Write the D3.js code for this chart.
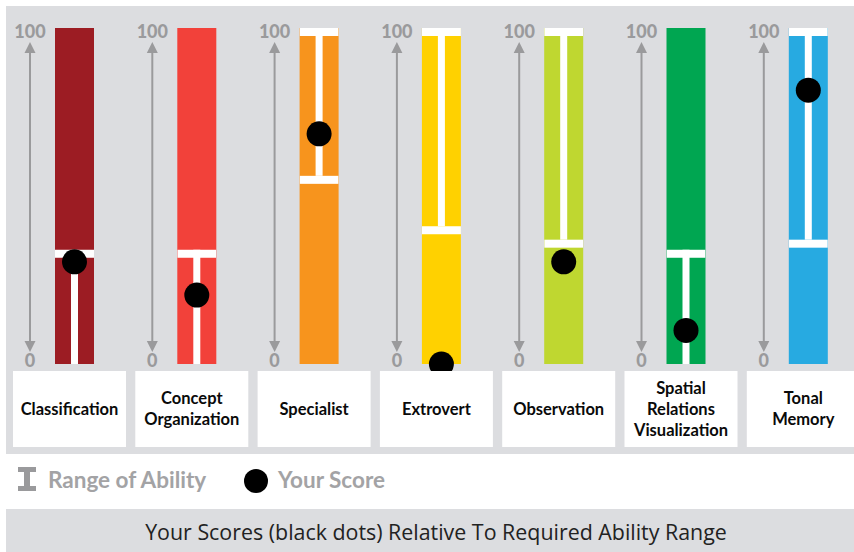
<!DOCTYPE html>
<html><head><meta charset="utf-8">
<script src="https://cdn.jsdelivr.net/npm/d3@7"></script>
<style>
html,body{margin:0;padding:0;background:#fff;}
svg{display:block;}
</style></head>
<body>
<script>
const categories = ["Classification", "Concept Organization", "Specialist", "Extrovert", "Observation", "Spatial Relations Visualization", "Tonal Memory"];
const labelLines = [["Classification"], ["Concept", "Organization"], ["Specialist"], ["Extrovert"], ["Observation"], ["Spatial", "Relations", "Visualization"], ["Tonal", "Memory"]];
const colors = ["#9c1c23", "#f2413a", "#f7941d", "#ffd100", "#bfd730", "#00a651", "#27aae1"];
const rangeLow = [0, 0, 56, 41, 37, 0, 37];
const rangeHigh = [34, 34, 100, 100, 100, 34, 100];
const scores = [30.4, 20.5, 68.5, 0, 30.4, 10, 81.5];
const axisTicks = [0, 100];

const W = 854, H = 552;
const svg = d3.select("body").append("svg").attr("width", W).attr("height", H);
const gray = "#dcdde0";

// background panels
svg.append("rect").attr("x", 6).attr("y", 6).attr("width", W - 6).attr("height", 448).attr("fill", gray);
svg.append("rect").attr("x", 6).attr("y", 509).attr("width", W - 6).attr("height", H - 509).attr("fill", gray);

const x = d3.scaleBand().domain(categories).range([13, 13 + 7 * 122.3]).paddingInner(0);
const y = d3.scaleLinear().domain([0, 100]).range([364, 28]);
const barW = 39, capH = 8, lineW = 7;

const cols = svg.selectAll("g.col").data(categories).join("g").attr("class", "col")
  .attr("transform", d => `translate(${x(d)},0)`);

// axis arrows
const ax = 17;
cols.append("line").attr("x1", ax).attr("x2", ax).attr("y1", 50).attr("y2", 344)
  .attr("stroke", "#9a9a9c").attr("stroke-width", 2);
cols.append("path").attr("d", `M${ax},42 L${ax - 5.5},53 L${ax + 5.5},53 Z`).attr("fill", "#9a9a9c");
cols.append("path").attr("d", `M${ax},352 L${ax - 5.5},341 L${ax + 5.5},341 Z`).attr("fill", "#9a9a9c");
cols.selectAll("text.tick").data(axisTicks).join("text").attr("class", "tick")
  .attr("x", ax).attr("y", t => t === 100 ? 37.5 : 366.5)
  .attr("text-anchor", "middle")
  .attr("font-family", "Lato, 'Open Sans', sans-serif").attr("font-weight", 900)
  .attr("font-size", 18).attr("fill", "#9a9a9c").text(t => t);

// bars
const bx = 42;
cols.append("rect").attr("x", bx).attr("width", barW).attr("y", y(100)).attr("height", y(0) - y(100))
  .attr("fill", (d, i) => colors[i]);

// clip per bar for range marks
const defs = svg.append("defs");
defs.append("clipPath").attr("id", "barclip").append("rect")
  .attr("x", bx).attr("width", barW).attr("y", y(100)).attr("height", y(0) - y(100));

const rg = cols.append("g").attr("clip-path", "url(#barclip)");
// vertical white line
rg.append("rect").attr("x", bx + barW / 2 - lineW / 2).attr("width", lineW)
  .attr("y", (d, i) => y(rangeHigh[i]))
  .attr("height", (d, i) => y(rangeLow[i]) - y(rangeHigh[i]))
  .attr("fill", "#fff");
// caps
rg.append("rect").attr("x", bx).attr("width", barW)
  .attr("y", (d, i) => y(rangeHigh[i])).attr("height", capH).attr("fill", "#fff");
rg.append("rect").attr("x", bx).attr("width", barW)
  .attr("y", (d, i) => y(rangeLow[i])).attr("height", capH).attr("fill", "#fff");

// score dots
cols.append("circle").attr("cx", bx + barW / 2).attr("cy", (d, i) => y(scores[i])).attr("r", 12.5).attr("fill", "#000");

// label boxes
cols.append("rect").attr("x", 0).attr("y", 371).attr("width", 113).attr("height", 76).attr("fill", "#fff");
cols.each(function (d, i) {
  const lines = labelLines[i];
  const lh = 21;
  const y0 = 409 - (lines.length - 1) * lh / 2;
  const t = d3.select(this).append("text").attr("text-anchor", "middle")
    .attr("font-family", "Lato, 'Open Sans', sans-serif").attr("font-weight", 700)
    .attr("font-size", 16.5).attr("fill", "#0a0a0a");
  lines.forEach((l, k) => {
    t.append("tspan").attr("x", 56.5).attr("y", y0 + k * lh).attr("dy", "0.35em").text(l);
  });
});

// legend
const lg = svg.append("g");
lg.append("rect").attr("x", 18).attr("y", 467).attr("width", 18).attr("height", 5).attr("fill", "#9a9a9c");
lg.append("rect").attr("x", 24).attr("y", 467).attr("width", 6).attr("height", 23).attr("fill", "#9a9a9c");
lg.append("rect").attr("x", 18).attr("y", 486).attr("width", 18).attr("height", 5).attr("fill", "#9a9a9c");
lg.append("text").attr("x", 48).attr("y", 488).attr("font-family", "Lato, 'Open Sans', sans-serif")
  .attr("font-weight", 700).attr("font-size", 22.5).attr("fill", "#a3a3a5").text("Range of Ability");
lg.append("circle").attr("cx", 256).attr("cy", 481).attr("r", 12).attr("fill", "#000");
lg.append("text").attr("x", 278).attr("y", 488).attr("font-family", "Lato, 'Open Sans', sans-serif")
  .attr("font-weight", 700).attr("font-size", 22.5).attr("fill", "#a3a3a5").text("Your Score");

// title
svg.append("text").attr("x", 436).attr("y", 533).attr("dy", "0.35em").attr("text-anchor", "middle")
  .attr("font-family", "'Open Sans', sans-serif").attr("font-size", 21.4).attr("fill", "#222")
  .text("Your Scores (black dots) Relative To Required Ability Range");
</script>
</body></html>
